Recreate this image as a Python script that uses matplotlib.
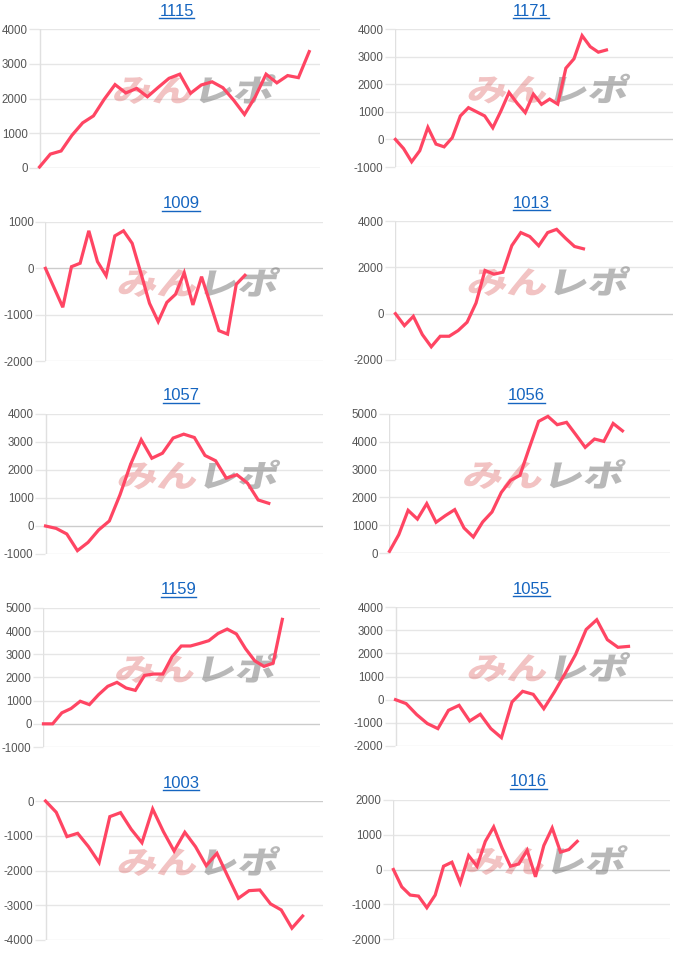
import matplotlib
matplotlib.use("Agg")
import matplotlib.pyplot as plt
import numpy as np
from matplotlib.textpath import TextPath
from matplotlib.patches import PathPatch
from matplotlib.font_manager import FontProperties
from matplotlib.transforms import Affine2D
from matplotlib.lines import Line2D

plt.rcParams['font.family'] = ['Liberation Sans', 'DejaVu Sans']

titles = ["1115", "1171", "1009", "1013", "1057", "1056", "1159", "1055", "1003", "1016"]

v1115 = [30, 400, 490, 940, 1300, 1500, 1980, 2400, 2160, 2290, 2050, 2320, 2580, 2700,
         2150, 2390, 2480, 2310, 1950, 1540, 2050, 2700, 2450, 2660, 2600, 3350]
v1171 = [0, -330, -810, -410, 435, -170, -270, 60, 850, 1150, 1000, 850, 420, 1030,
         1700, 1310, 970, 1640, 1270, 1460, 1280, 2580, 2920, 3760, 3360, 3160, 3240]
v1009 = [0, -420, -840, 35, 110, 810, 145, -160, 700, 810, 540, -100, -755, -1150,
         -735, -560, -95, -790, -180, -760, -1345, -1420, -345, -150]
v1013 = [0, -515, -115, -900, -1430, -975, -975, -730, -370, 460, 1865, 1705, 1790,
         2940, 3500, 3330, 2930, 3500, 3640, 3255, 2900, 2800]
v1057 = [0, -85, -285, -880, -585, -140, 180, 1110, 2200, 3080, 2420, 2600, 3140,
         3280, 3160, 2520, 2330, 1710, 1830, 1530, 930, 810]
v1056 = [60, 660, 1535, 1220, 1775, 1105, 1345, 1560, 900, 575, 1115, 1475, 2180,
         2615, 2795, 3780, 4735, 4915, 4615, 4700, 4255, 3800, 4100, 4015, 4660, 4395]
v1159 = [0, 0, 475, 660, 975, 830, 1260, 1620, 1790, 1545, 1445, 2090, 2150, 2150,
         2900, 3360, 3360, 3470, 3590, 3900, 4090, 3880, 3240, 2720, 2480, 2620, 4510]
v1055 = [0, -170, -645, -1030, -1250, -460, -245, -920, -630, -1250, -1640, -100, 360,
         230, -390, 330, 1120, 1950, 3030, 3450, 2590, 2260, 2300]
v1003 = [0, -325, -1025, -930, -1310, -1770, -450, -335, -815, -1200, -230, -880,
         -1440, -900, -1315, -1860, -1505, -2160, -2800, -2580, -2560, -2960, -3135,
         -3660, -3310]
v1016 = [0, -500, -735, -765, -1100, -735, 95, 210, -385, 400, 95, 810, 1225, 620, 95,
         160, 555, -210, 690, 1195, 500, 575, 810]

series = [v1115, v1171, v1009, v1013, v1057, v1056, v1159, v1055, v1003, v1016]
yticks = [
    [0, 1000, 2000, 3000, 4000],
    [-1000, 0, 1000, 2000, 3000, 4000],
    [-2000, -1000, 0, 1000],
    [-2000, 0, 2000, 4000],
    [-1000, 0, 1000, 2000, 3000, 4000],
    [0, 1000, 2000, 3000, 4000, 5000],
    [-1000, 0, 1000, 2000, 3000, 4000, 5000],
    [-2000, -1000, 0, 1000, 2000, 3000, 4000],
    [-4000, -3000, -2000, -1000, 0],
    [-2000, -1000, 0, 1000, 2000],
]
xmax = [26.0, 34.2, 32.0, 31.0, 26.1, 30.1, 30.1, 26.2, 25.9, 33.1]

# chart areas in pixels: left, top, right, bottom
boxes = [
    (39, 29, 320, 168), (395, 29, 673, 167),
    (45, 222, 323, 361), (395, 221, 673, 360),
    (45, 414, 323, 554), (389, 414, 670, 553),
    (43, 608, 320, 747), (395, 607, 673, 746),
    (45, 801, 323, 940), (393, 800, 670, 939),
]

W, H = 700, 965
fig = plt.figure(figsize=(W / 100, H / 100), dpi=100)

wm_font = FontProperties(family='Noto Sans CJK JP', weight=900)
p_min = TextPath((0, 0), "みん", prop=wm_font, size=40)
p_repo = TextPath((0, 0), "レポ", prop=wm_font, size=40)
w_min = p_min.get_extents().x1

titles_txt = []
for i, (vals, title) in enumerate(zip(series, titles)):
    l, t, r, b = boxes[i]
    ax = fig.add_axes([l / W, 1 - b / H, (r - l) / W, (b - t) / H])
    yt = yticks[i]
    ax.set_ylim(yt[0], yt[-1])
    ax.set_xlim(-0.05, xmax[i])
    ax.set_yticks(yt)
    ax.set_yticklabels([str(v) for v in yt])
    ax.set_xticks([])
    for v in yt:
        ax.axhline(v, color='#cccccc' if v == 0 else '#e6e6e6', lw=1.0, zorder=1)
    ax.axvline(0, color='#e0e0e0', lw=1.0, zorder=1)
    for s in ax.spines.values():
        s.set_visible(False)
    ax.tick_params(axis='y', length=7.2, width=1.0, color='#e6e6e6', pad=1,
                   labelsize=8.3, labelcolor='#555555')

    # watermark
    mid_x = (l + r) / 2
    mid_y = (t + b) / 2
    x0 = mid_x - 68
    y0 = H - (mid_y + 3)
    shape = Affine2D().scale(1.0, 0.78) + Affine2D().skew_deg(12, 0)
    ax.add_patch(PathPatch(p_min, transform=shape + Affine2D().translate(x0, y0),
                           facecolor=(0.86, 0.35, 0.35, 0.36), edgecolor='none', zorder=2))
    ax.add_patch(PathPatch(p_repo, transform=shape + Affine2D().translate(x0 + w_min + 2, y0),
                           facecolor=(0.45, 0.45, 0.45, 0.5), edgecolor='none', zorder=2))

    ax.plot(np.arange(len(vals)), vals, color='#ff4563', lw=2.3, zorder=3,
            solid_joinstyle='miter', clip_on=False)

    tx = fig.text(((l + r) / 2 - 3) / W, 1 - (t - 18) / H, title, ha='center', va='center',
                  fontsize=12, color='#1565c0')
    titles_txt.append(tx)

fig.canvas.draw()
rend = fig.canvas.get_renderer()
for tx in titles_txt:
    bb = tx.get_window_extent(rend)
    yy = (bb.y0 + 1) / H
    fig.add_artist(Line2D([bb.x0 / W, bb.x1 / W], [yy, yy], color='#1565c0', lw=1.0,
                          transform=fig.transFigure))

fig.savefig("out.png", dpi=100, facecolor='white')
